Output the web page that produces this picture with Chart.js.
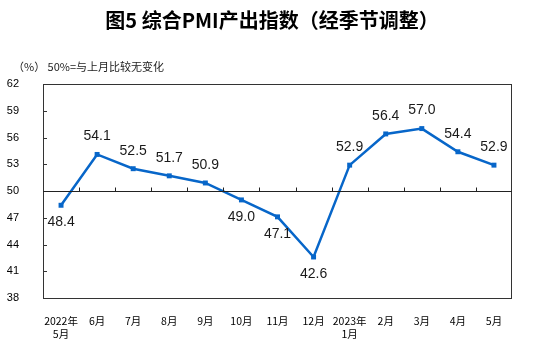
<!DOCTYPE html>
<html>
<head>
<meta charset="utf-8">
<script src="https://cdn.jsdelivr.net/npm/chart.js@4"></script>
<style>
  html, body { margin: 0; padding: 0; background: #fff; }
  #wrap { width: 554px; height: 345px; position: relative; }
</style>
</head>
<body>
<div id="wrap"><canvas id="pmiChart"></canvas></div>
<script>
const months = [['2022年', '5月'], '6月', '7月', '8月', '9月', '10月', '11月', '12月', ['2023年', '1月'], '2月', '3月', '4月', '5月'];
const pmiValues = [48.4, 54.1, 52.5, 51.7, 50.9, 49.0, 47.1, 42.6, 52.9, 56.4, 57.0, 54.4, 52.9];
const labelBelow = [true, false, false, false, false, true, true, true, false, false, false, false, false];
const yTicks = [38, 41, 44, 47, 50, 53, 56, 59, 62];

const titleText = '图5 综合PMI产出指数（经季节调整）';
const noteText = '（%） 50%=与上月比较无变化';

// frame, inner ticks, 50 line, texts, point labels
const decor = {
  id: 'decor',
  afterDatasetsDraw(chart) {
    const ctx = chart.ctx;
    const area = chart.chartArea;
    const y = chart.scales.y;
    ctx.save();

    ctx.strokeStyle = '#333';
    ctx.lineWidth = 1;
    ctx.strokeRect(area.left + 0.5, area.top + 0.5, area.right - area.left - 1, area.bottom - area.top);

    // y ticks inside
    yTicks.forEach(v => {
      const py = Math.round(y.getPixelForValue(v)) + 0.5;
      ctx.beginPath();
      ctx.moveTo(area.left, py);
      ctx.lineTo(area.left + 4, py);
      ctx.stroke();
    });

    // 50 line with category separators
    const y50 = Math.round(y.getPixelForValue(50)) + 0.5;
    ctx.strokeStyle = '#222';
    ctx.beginPath();
    ctx.moveTo(area.left, y50);
    ctx.lineTo(area.right, y50);
    ctx.stroke();
    const step = (area.right - area.left) / months.length;
    for (let i = 1; i < months.length; i++) {
      const px = Math.round(area.left + i * step) + 0.5;
      ctx.beginPath();
      ctx.moveTo(px, y50);
      ctx.lineTo(px, y50 - 4);
      ctx.stroke();
    }

    // point labels
    const meta = chart.getDatasetMeta(0);
    ctx.fillStyle = '#1a1a1a';
    ctx.font = '14px "Liberation Sans", Arial, sans-serif';
    ctx.textAlign = 'center';
    ctx.textBaseline = 'middle';
    meta.data.forEach((pt, i) => {
      const dy = labelBelow[i] ? 17 : -18;
      ctx.fillText(pmiValues[i].toFixed(1), pt.x, pt.y + dy);
    });

    // title and note
    ctx.fillStyle = '#000';
    ctx.font = 'bold 20px "Noto Sans CJK SC", sans-serif';
    ctx.fillText(titleText, 272, 20);
    ctx.fillStyle = '#222';
    ctx.font = '11px "Noto Sans CJK SC", sans-serif';
    ctx.textAlign = 'left';
    ctx.fillText(noteText, 13, 67);

    ctx.restore();
  }
};

new Chart(document.getElementById('pmiChart'), {
  type: 'line',
  data: {
    labels: months,
    datasets: [{
      data: pmiValues,
      borderColor: '#0766c9',
      backgroundColor: '#0766c9',
      borderWidth: 2.5,
      pointStyle: 'rect',
      pointRadius: 3.5,
      pointBorderWidth: 0,
      tension: 0
    }]
  },
  options: {
    responsive: true,
    maintainAspectRatio: false,
    animation: false,
    layout: { padding: { left: 0, top: 84, right: 42, bottom: 0 } },
    plugins: {
      legend: { display: false },
      tooltip: { enabled: false }
    },
    scales: {
      x: {
        offset: true,
        grid: { display: false },
        border: { display: false },
        afterFit(scale) { scale.height = 47; },
        ticks: {
          padding: 9,
          maxRotation: 0,
          autoSkip: false,
          color: '#000',
          font: { family: '"Noto Sans CJK SC", sans-serif', size: 10.5 }
        }
      },
      y: {
        min: 38,
        max: 62,
        grid: { display: false },
        border: { display: false },
        afterFit(scale) { scale.width = 43; },
        afterBuildTicks(scale) { scale.ticks = yTicks.map(v => ({ value: v })); },
        ticks: {
          padding: 16,
          color: '#000',
          font: { family: '"Liberation Sans", Arial, sans-serif', size: 11 }
        }
      }
    }
  },
  plugins: [decor]
});
</script>
</body>
</html>
